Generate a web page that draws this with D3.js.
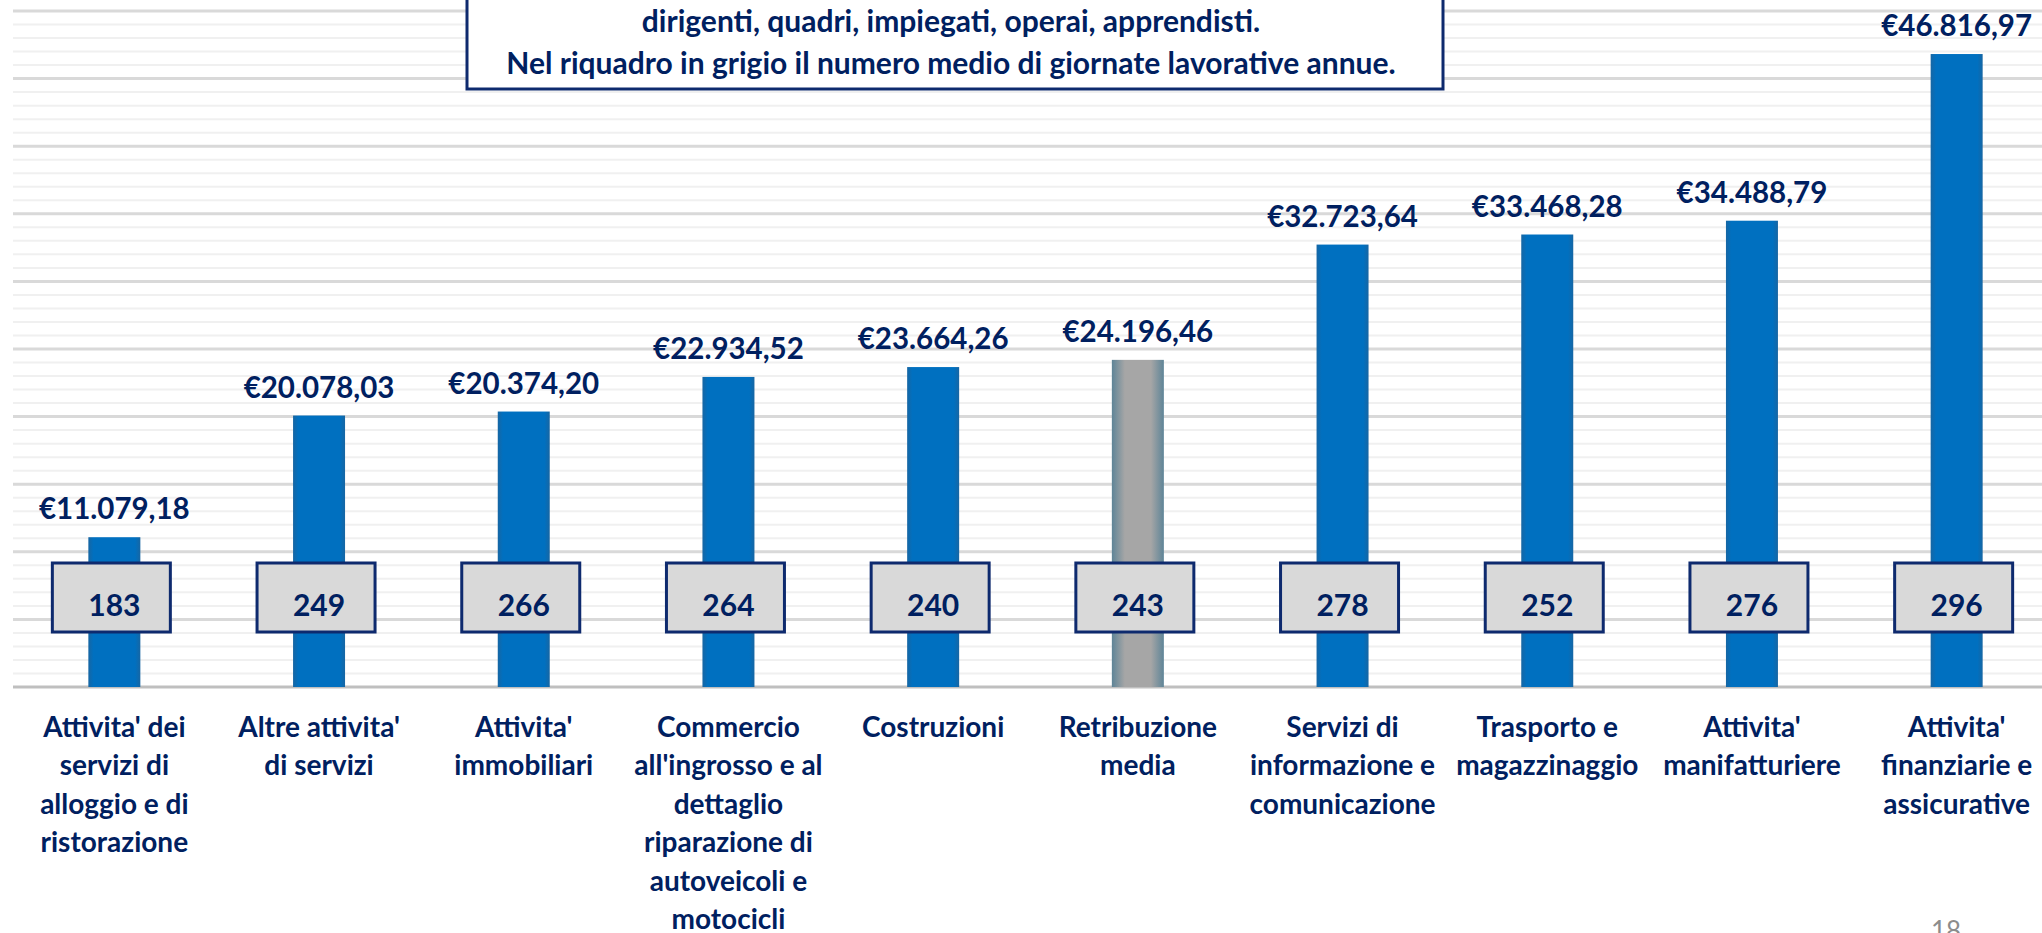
<!DOCTYPE html>
<html>
<head>
<meta charset="utf-8">
<script src="https://cdn.jsdelivr.net/npm/d3@7"></script>
<style>
  html, body { margin: 0; padding: 0; background: #fff; overflow: hidden; }
  svg { display: block; font-family: Lato, "Liberation Sans", sans-serif; }
</style>
</head>
<body>
<svg id="chart"></svg>
<script>
// data
const categories = [
  "Attivita' dei servizi di alloggio e di ristorazione",
  "Altre attivita' di servizi",
  "Attivita' immobiliari",
  "Commercio all'ingrosso e al dettaglio riparazione di autoveicoli e motocicli",
  "Costruzioni",
  "Retribuzione media",
  "Servizi di informazione e comunicazione",
  "Trasporto e magazzinaggio",
  "Attivita' manifatturiere",
  "Attivita' finanziarie e assicurative"
];
const labelLines = [
  ["Attivita' dei", "servizi di", "alloggio e di", "ristorazione"],
  ["Altre attivita'", "di servizi"],
  ["Attivita'", "immobiliari"],
  ["Commercio", "all'ingrosso e al", "dettaglio", "riparazione di", "autoveicoli e", "motocicli"],
  ["Costruzioni"],
  ["Retribuzione", "media"],
  ["Servizi di", "informazione e", "comunicazione"],
  ["Trasporto e", "magazzinaggio"],
  ["Attivita'", "manifatturiere"],
  ["Attivita'", "finanziarie e", "assicurative"]
];
const retribuzione = [11079.18, 20078.03, 20374.20, 22934.52, 23664.26, 24196.46, 32723.64, 33468.28, 34488.79, 46816.97];
const giornate = [183, 249, 266, 264, 240, 243, 278, 252, 276, 296];
const mediaIndex = 5;
const titleLines = [
  "dirigenti, quadri, impiegati, operai, apprendisti.",
  "Nel riquadro in grigio il numero medio di giornate lavorative annue."
];

const width = 2042, height = 933;
const navy = "#002060";

const svg = d3.select("#chart").attr("width", width).attr("height", height);

const x = d3.scaleBand()
  .domain(categories)
  .range([12, 2059])
  .paddingInner(0.746)
  .paddingOuter(0.373);

const y = d3.scaleLinear()
  .domain([0, 50000])
  .range([687, 11]);

const it = d3.formatLocale({decimal: ",", thousands: ".", grouping: [3], currency: ["€", ""]});
const euro = it.format("$,.2f");

// gradients
const defs = svg.append("defs");
function hGrad(id, edge, mid, stop) {
  const g = defs.append("linearGradient").attr("id", id)
    .attr("x1", "0%").attr("x2", "100%").attr("y1", "0%").attr("y2", "0%");
  g.append("stop").attr("offset", "0%").attr("stop-color", edge);
  g.append("stop").attr("offset", stop).attr("stop-color", mid);
  g.append("stop").attr("offset", (100 - parseFloat(stop)) + "%").attr("stop-color", mid);
  g.append("stop").attr("offset", "100%").attr("stop-color", edge);
}
hGrad("blueBar", "#1766a3", "#0070c0", "10%");
hGrad("grayBar", "#5e8497", "#a6a6a6", "25%");

// gridlines
const grid = svg.append("g");
const ticks = d3.range(1000, 50001, 1000);
grid.selectAll("line")
  .data(ticks)
  .join("line")
  .attr("x1", 13).attr("x2", width)
  .attr("y1", d => y(d)).attr("y2", d => y(d))
  .attr("stroke", d => d % 5000 === 0 ? "#d9d9d9" : "#f0f0f0")
  .attr("stroke-width", d => d % 5000 === 0 ? 3 : 2);

// baseline
svg.append("line")
  .attr("x1", 13).attr("x2", width)
  .attr("y1", y(0)).attr("y2", y(0))
  .attr("stroke", "#bfbfbf").attr("stroke-width", 3);

// bars
svg.append("g").selectAll("rect")
  .data(retribuzione)
  .join("rect")
  .attr("x", (d, i) => x(categories[i]))
  .attr("y", d => y(d))
  .attr("width", x.bandwidth())
  .attr("height", d => y(0) - y(d))
  .attr("fill", (d, i) => i === mediaIndex ? "url(#grayBar)" : "url(#blueBar)");

// value labels
svg.append("g").selectAll("text")
  .data(retribuzione)
  .join("text")
  .attr("x", (d, i) => x(categories[i]) + x.bandwidth() / 2)
  .attr("y", d => y(d) - 18)
  .attr("text-anchor", "middle")
  .attr("font-size", 29.5)
  .attr("font-weight", "bold")
  .attr("fill", navy)
  .text(d => euro(d));

// grey boxes with days
const boxW = 118, boxH = 69, boxTop = 563;
const boxes = svg.append("g").selectAll("g")
  .data(giornate)
  .join("g")
  .attr("transform", (d, i) => `translate(${x(categories[i]) + x.bandwidth() / 2 - 3},0)`);
boxes.append("rect")
  .attr("x", -boxW / 2).attr("y", boxTop)
  .attr("width", boxW).attr("height", boxH)
  .attr("fill", "#d9d9d9")
  .attr("stroke", "#0e2a6e").attr("stroke-width", 3);
boxes.append("text")
  .attr("x", 3).attr("y", boxTop + 53)
  .attr("text-anchor", "middle")
  .attr("font-size", 30)
  .attr("font-weight", "bold")
  .attr("fill", navy)
  .text(d => d);

// category labels
const labels = svg.append("g").selectAll("text")
  .data(labelLines)
  .join("text")
  .attr("x", (d, i) => x(categories[i]) + x.bandwidth() / 2)
  .attr("y", 737)
  .attr("text-anchor", "middle")
  .attr("font-size", 28)
  .attr("font-weight", "bold")
  .attr("fill", navy);
labels.selectAll("tspan")
  .data((d, i) => d.map(t => ({t, cx: x(categories[i]) + x.bandwidth() / 2})))
  .join("tspan")
  .attr("x", d => d.cx)
  .attr("dy", (d, j) => j === 0 ? 0 : 38.4)
  .text(d => d.t);

// title box (top cut off)
svg.append("rect")
  .attr("x", 467).attr("y", -20)
  .attr("width", 976).attr("height", 109)
  .attr("fill", "#fff")
  .attr("stroke", "#0e2a6e").attr("stroke-width", 3);
svg.append("g").selectAll("text")
  .data(titleLines)
  .join("text")
  .attr("x", 951)
  .attr("y", (d, i) => 32 + i * 42)
  .attr("text-anchor", "middle")
  .attr("font-size", 30)
  .attr("font-weight", "bold")
  .attr("fill", navy)
  .text(d => d);

// page number
svg.append("text")
  .attr("x", 1946).attr("y", 940)
  .attr("text-anchor", "middle")
  .attr("font-size", 26)
  .attr("fill", "#8c8c8c")
  .text("18");
</script>
</body>
</html>
